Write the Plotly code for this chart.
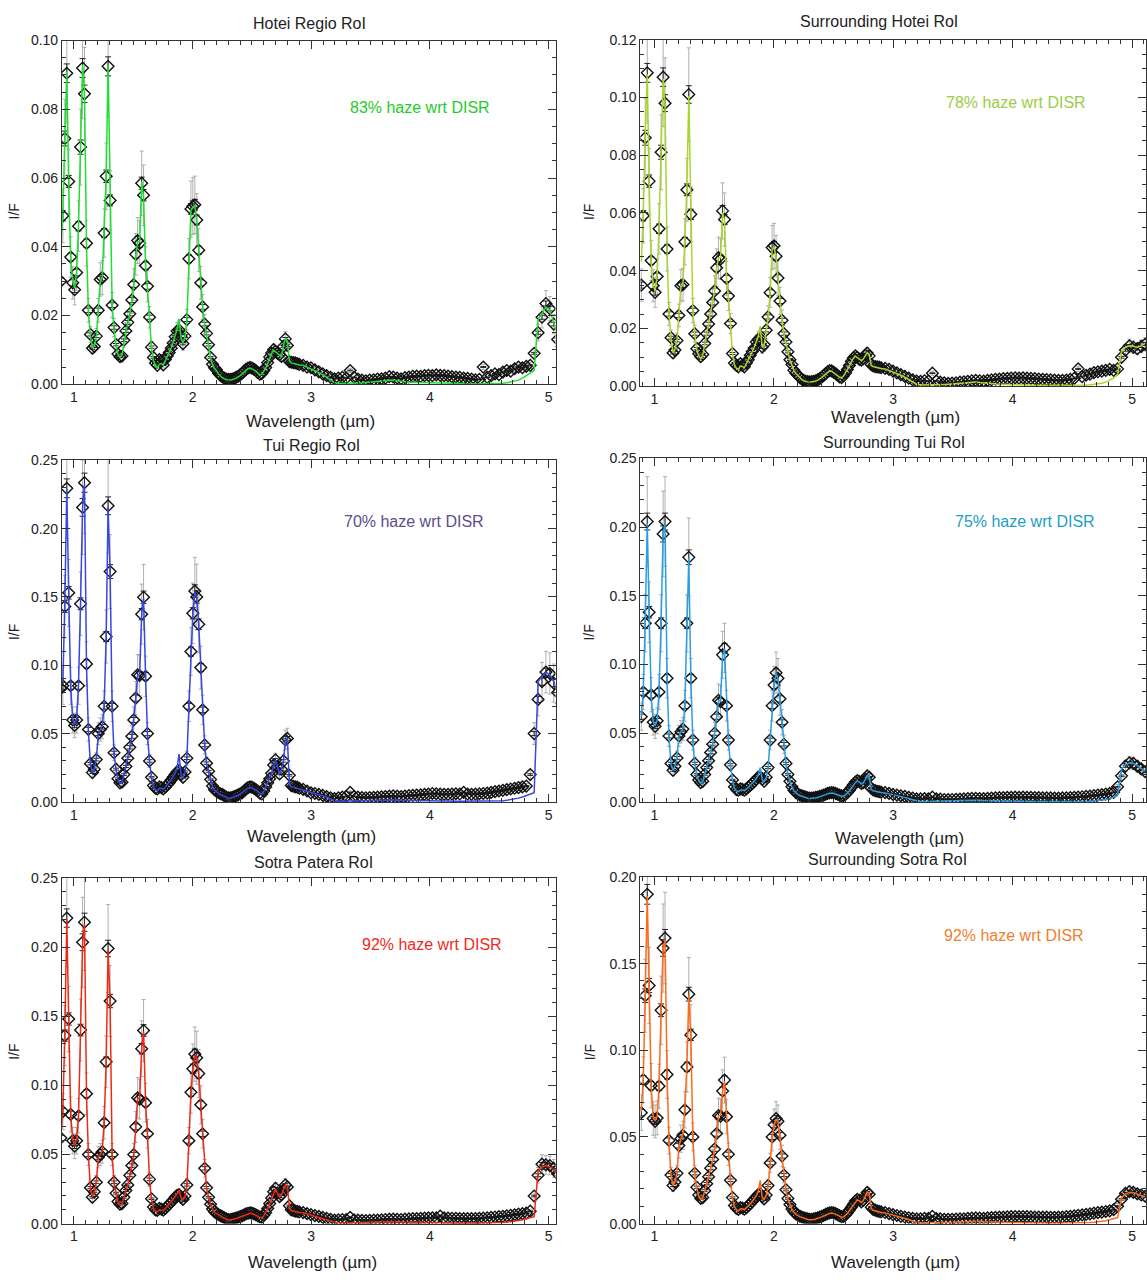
import plotly.graph_objects as go

W, H = 1147, 1280
FONT = "Liberation Sans, Arial, Helvetica, sans-serif"

# ---------------- wavelength grids (micron) ----------------
wl_a = [0.890, 0.907, 0.923, 0.940, 0.956, 0.973, 0.990, 1.006, 1.023, 1.039,
        1.056, 1.073, 1.089, 1.106, 1.122, 1.139, 1.156, 1.172, 1.189, 1.205,
        1.222, 1.239, 1.255, 1.272, 1.288, 1.305, 1.322, 1.338, 1.355, 1.371,
        1.388, 1.405, 1.421, 1.438, 1.454, 1.471, 1.488, 1.504, 1.521, 1.537,
        1.554, 1.571, 1.587, 1.604, 1.620, 1.637, 1.654, 1.670, 1.687, 1.703,
        1.720, 1.737, 1.753, 1.770, 1.786, 1.803, 1.820, 1.836, 1.853, 1.869,
        1.886, 1.903, 1.919, 1.936, 1.952, 1.969, 1.986, 2.002, 2.019, 2.035,
        2.052, 2.069, 2.085, 2.102, 2.118, 2.135, 2.152, 2.168, 2.185, 2.201,
        2.218, 2.235, 2.251, 2.268, 2.284, 2.301, 2.318, 2.334, 2.351, 2.367,
        2.384, 2.401, 2.417, 2.434, 2.450, 2.467, 2.484, 2.500, 2.517, 2.533,
        2.550, 2.567, 2.583, 2.600, 2.616, 2.633, 2.650, 2.666, 2.683, 2.699,
        2.716, 2.733, 2.749, 2.766, 2.782, 2.799, 2.816, 2.832, 2.849, 2.865,
        2.882, 2.899]
wl_b = [2.932, 2.965, 2.998, 3.031, 3.064, 3.097, 3.130, 3.163, 3.196, 3.229,
        3.262, 3.295, 3.328, 3.361, 3.394, 3.427, 3.460, 3.493, 3.526, 3.559,
        3.592, 3.625, 3.658, 3.691, 3.724, 3.757, 3.790, 3.823, 3.856, 3.889,
        3.922, 3.955, 3.988, 4.021, 4.054, 4.087, 4.120, 4.153, 4.186, 4.219,
        4.252, 4.285, 4.318, 4.351, 4.384, 4.417, 4.450, 4.483, 4.516, 4.549,
        4.582, 4.615, 4.648, 4.681, 4.714, 4.747, 4.780, 4.813, 4.846, 4.879,
        4.912, 4.945, 4.978, 5.011, 5.044, 5.077, 5.110]

# ---------------- Hotei Regio RoI ----------------
hotei_data_a = [0.0300, 0.0490, 0.0715, 0.0905, 0.0590, 0.0370, 0.0295, 0.0275, 0.0325, 0.0460,
                0.0690, 0.0920, 0.0845, 0.0410, 0.0215, 0.0145, 0.0105, 0.0110, 0.0140, 0.0215,
                0.0305, 0.0310, 0.0440, 0.0605, 0.0925, 0.0535, 0.0230, 0.0165, 0.0115, 0.0088,
                0.0080, 0.0082, 0.0128, 0.0155, 0.0180, 0.0205, 0.0245, 0.0290, 0.0378, 0.0418,
                0.0410, 0.0585, 0.0550, 0.0345, 0.0285, 0.0195, 0.0108, 0.0078, 0.0062, 0.0055,
                0.0072, 0.0068, 0.0056, 0.0072, 0.0082, 0.0092, 0.0105, 0.0120, 0.0138, 0.0155,
                0.0158, 0.0140, 0.0118, 0.0140, 0.0188, 0.0365, 0.0510, 0.0518, 0.0522, 0.0478,
                0.0390, 0.0295, 0.0225, 0.0175, 0.0148, 0.0115, 0.0078, 0.0058, 0.0048, 0.0042,
                0.0032, 0.0026, 0.0021, 0.0018, 0.0015, 0.0014, 0.0014, 0.0015, 0.0017, 0.0020,
                0.0023, 0.0027, 0.0032, 0.0038, 0.0043, 0.0047, 0.0049, 0.0047, 0.0044, 0.0040,
                0.0034, 0.0029, 0.0031, 0.0039, 0.0049, 0.0063, 0.0079, 0.0091, 0.0101, 0.0096,
                0.0090, 0.0086, 0.0081, 0.0110, 0.0132, 0.0113, 0.0066, 0.0064, 0.0063, 0.0062,
                0.0060, 0.0058]
hotei_data_b = [0.0055, 0.0050, 0.0048, 0.0042, 0.0036, 0.0030, 0.0025, 0.0020, 0.0016, 0.0018,
                0.0020, 0.0018, 0.0040, 0.0020, 0.0015, 0.0012, 0.0010, 0.0012, 0.0013, 0.0015,
                0.0016, 0.0018, 0.0022, 0.0021, 0.0018, 0.0016, 0.0019, 0.0021, 0.0023, 0.0024,
                0.0023, 0.0025, 0.0026, 0.0025, 0.0027, 0.0026, 0.0025, 0.0024, 0.0022, 0.0021,
                0.0020, 0.0018, 0.0017, 0.0015, 0.0013, 0.0014, 0.0050, 0.0020, 0.0025, 0.0030,
                0.0028, 0.0035, 0.0040, 0.0038, 0.0045, 0.0050, 0.0048, 0.0052, 0.0055, 0.0090,
                0.0150, 0.0195, 0.0235, 0.0220, 0.0175, 0.0130, 0.0110]
hotei_model_a = [0.0400, 0.0500, 0.0720, 0.0910, 0.0580, 0.0360, 0.0300, 0.0280, 0.0330, 0.0470,
                 0.0700, 0.0930, 0.0850, 0.0400, 0.0210, 0.0140, 0.0105, 0.0112, 0.0140, 0.0210,
                 0.0300, 0.0312, 0.0450, 0.0610, 0.0930, 0.0530, 0.0228, 0.0160, 0.0112, 0.0086,
                 0.0078, 0.0085, 0.0125, 0.0152, 0.0178, 0.0205, 0.0245, 0.0288, 0.0375, 0.0415,
                 0.0415, 0.0590, 0.0545, 0.0340, 0.0280, 0.0190, 0.0105, 0.0070, 0.0055, 0.0048,
                 0.0058, 0.0060, 0.0055, 0.0068, 0.0080, 0.0092, 0.0106, 0.0122, 0.0140, 0.0160,
                 0.0190, 0.0135, 0.0120, 0.0138, 0.0185, 0.0360, 0.0505, 0.0515, 0.0520, 0.0475,
                 0.0385, 0.0290, 0.0222, 0.0172, 0.0145, 0.0112, 0.0076, 0.0056, 0.0046, 0.0040,
                 0.0030, 0.0024, 0.0019, 0.0016, 0.0013, 0.0012, 0.0012, 0.0013, 0.0015, 0.0018,
                 0.0021, 0.0025, 0.0030, 0.0036, 0.0041, 0.0045, 0.0047, 0.0045, 0.0042, 0.0038,
                 0.0032, 0.0027, 0.0029, 0.0037, 0.0047, 0.0061, 0.0077, 0.0089, 0.0099, 0.0094,
                 0.0088, 0.0084, 0.0080, 0.0112, 0.0135, 0.0125, 0.0068, 0.0062, 0.0060, 0.0058,
                 0.0057, 0.0056]
hotei_model_b = [0.0055, 0.0050, 0.0045, 0.0040, 0.0034, 0.0028, 0.0020, 0.0012, 0.0005, 0.0002,
                 0.0002, 0.0002, 0.0002, 0.0002, 0.0003, 0.0004, 0.0005, 0.0006, 0.0007, 0.0008,
                 0.0009, 0.0011, 0.0013, 0.0012, 0.0010, 0.0008, 0.0007, 0.0006, 0.0006, 0.0005,
                 0.0005, 0.0005, 0.0004, 0.0004, 0.0004, 0.0003, 0.0003, 0.0003, 0.0002, 0.0002,
                 0.0002, 0.0002, 0.0001, 0.0001, 0.0001, 0.0001, 0.0001, 0.0001, 0.0001, 0.0002,
                 0.0002, 0.0003, 0.0004, 0.0006, 0.0008, 0.0012, 0.0018, 0.0025, 0.0032, 0.0040,
                 0.0190, 0.0205, 0.0225, 0.0215, 0.0180, 0.0140, 0.0120]

# ---------------- Surrounding Hotei RoI ----------------
shotei_data_a = [0.0350, 0.0590, 0.0860, 0.1085, 0.0710, 0.0435, 0.0348, 0.0325, 0.0380, 0.0545,
                 0.0810, 0.1070, 0.0980, 0.0475, 0.0250, 0.0168, 0.0115, 0.0125, 0.0158, 0.0245,
                 0.0348, 0.0352, 0.0500, 0.0680, 0.1010, 0.0595, 0.0262, 0.0182, 0.0130, 0.0112,
                 0.0102, 0.0110, 0.0148, 0.0182, 0.0215, 0.0250, 0.0290, 0.0330, 0.0410, 0.0445,
                 0.0440, 0.0607, 0.0577, 0.0373, 0.0312, 0.0217, 0.0113, 0.0080, 0.0072, 0.0067,
                 0.0078, 0.0072, 0.0067, 0.0080, 0.0092, 0.0107, 0.0120, 0.0132, 0.0153, 0.0162,
                 0.0165, 0.0136, 0.0144, 0.0194, 0.0240, 0.0324, 0.0480, 0.0486, 0.0450, 0.0375,
                 0.0295, 0.0228, 0.0182, 0.0153, 0.0119, 0.0092, 0.0075, 0.0055, 0.0045, 0.0038,
                 0.0030, 0.0024, 0.0020, 0.0017, 0.0016, 0.0015, 0.0016, 0.0017, 0.0019, 0.0022,
                 0.0026, 0.0031, 0.0037, 0.0044, 0.0050, 0.0054, 0.0053, 0.0049, 0.0044, 0.0038,
                 0.0032, 0.0030, 0.0036, 0.0046, 0.0058, 0.0072, 0.0086, 0.0098, 0.0105, 0.0100,
                 0.0093, 0.0090, 0.0095, 0.0108, 0.0115, 0.0105, 0.0075, 0.0070, 0.0068, 0.0067,
                 0.0066, 0.0064]
shotei_data_b = [0.0062, 0.0058, 0.0052, 0.0046, 0.0040, 0.0034, 0.0028, 0.0022, 0.0018, 0.0017,
                 0.0019, 0.0018, 0.0045, 0.0018, 0.0014, 0.0012, 0.0010, 0.0011, 0.0012, 0.0014,
                 0.0015, 0.0017, 0.0019, 0.0020, 0.0019, 0.0018, 0.0020, 0.0022, 0.0024, 0.0025,
                 0.0026, 0.0027, 0.0028, 0.0029, 0.0028, 0.0029, 0.0028, 0.0027, 0.0026, 0.0025,
                 0.0024, 0.0023, 0.0022, 0.0021, 0.0020, 0.0020, 0.0021, 0.0024, 0.0027, 0.0060,
                 0.0033, 0.0038, 0.0042, 0.0047, 0.0050, 0.0052, 0.0055, 0.0058, 0.0055, 0.0060,
                 0.0100, 0.0125, 0.0140, 0.0135, 0.0130, 0.0138, 0.0145]
shotei_model_a = [0.0430, 0.0600, 0.0870, 0.1080, 0.0700, 0.0430, 0.0350, 0.0330, 0.0385, 0.0550,
                  0.0820, 0.1065, 0.0975, 0.0470, 0.0245, 0.0165, 0.0115, 0.0128, 0.0160, 0.0245,
                  0.0345, 0.0355, 0.0510, 0.0685, 0.1005, 0.0590, 0.0258, 0.0178, 0.0126, 0.0105,
                  0.0095, 0.0108, 0.0145, 0.0180, 0.0213, 0.0248, 0.0288, 0.0330, 0.0408, 0.0445,
                  0.0445, 0.0600, 0.0575, 0.0370, 0.0308, 0.0212, 0.0110, 0.0075, 0.0062, 0.0058,
                  0.0070, 0.0068, 0.0064, 0.0078, 0.0090, 0.0105, 0.0120, 0.0135, 0.0155, 0.0172,
                  0.0208, 0.0135, 0.0142, 0.0190, 0.0238, 0.0320, 0.0475, 0.0482, 0.0448, 0.0372,
                  0.0292, 0.0225, 0.0180, 0.0150, 0.0117, 0.0090, 0.0073, 0.0054, 0.0044, 0.0037,
                  0.0029, 0.0023, 0.0019, 0.0016, 0.0015, 0.0014, 0.0015, 0.0016, 0.0018, 0.0021,
                  0.0025, 0.0030, 0.0036, 0.0043, 0.0049, 0.0053, 0.0052, 0.0048, 0.0043, 0.0037,
                  0.0031, 0.0029, 0.0035, 0.0045, 0.0057, 0.0071, 0.0085, 0.0097, 0.0104, 0.0099,
                  0.0092, 0.0089, 0.0094, 0.0107, 0.0116, 0.0110, 0.0072, 0.0068, 0.0066, 0.0065,
                  0.0063, 0.0061]
shotei_model_b = [0.0060, 0.0055, 0.0050, 0.0044, 0.0038, 0.0031, 0.0023, 0.0014, 0.0007, 0.0004,
                  0.0004, 0.0004, 0.0004, 0.0004, 0.0005, 0.0006, 0.0007, 0.0008, 0.0009, 0.0010,
                  0.0011, 0.0013, 0.0015, 0.0015, 0.0013, 0.0011, 0.0010, 0.0009, 0.0008, 0.0007,
                  0.0007, 0.0006, 0.0006, 0.0005, 0.0005, 0.0004, 0.0004, 0.0004, 0.0003, 0.0003,
                  0.0003, 0.0003, 0.0002, 0.0002, 0.0002, 0.0002, 0.0002, 0.0002, 0.0002, 0.0003,
                  0.0003, 0.0004, 0.0005, 0.0006, 0.0008, 0.0010, 0.0014, 0.0020, 0.0028, 0.0040,
                  0.0120, 0.0135, 0.0140, 0.0138, 0.0135, 0.0140, 0.0148]

# ---------------- Tui Regio RoI ----------------
tui_data_a = [0.0830, 0.0850, 0.1430, 0.2295, 0.1530, 0.0850, 0.0600, 0.0560, 0.0600, 0.0850,
              0.1450, 0.2155, 0.2336, 0.1010, 0.0530, 0.0280, 0.0215, 0.0240, 0.0310, 0.0500,
              0.0530, 0.0550, 0.0700, 0.1210, 0.2167, 0.1686, 0.0700, 0.0360, 0.0240, 0.0170,
              0.0140, 0.0145, 0.0200, 0.0260, 0.0320, 0.0400, 0.0480, 0.0600, 0.0760, 0.0930,
              0.0925, 0.1374, 0.1498, 0.0920, 0.0500, 0.0300, 0.0180, 0.0120, 0.0100, 0.0095,
              0.0110, 0.0105, 0.0095, 0.0110, 0.0125, 0.0140, 0.0160, 0.0180, 0.0200, 0.0220,
              0.0230, 0.0200, 0.0180, 0.0220, 0.0320, 0.0700, 0.1100, 0.1380, 0.1543, 0.1500,
              0.1300, 0.0983, 0.0674, 0.0417, 0.0284, 0.0224, 0.0164, 0.0116, 0.0090, 0.0078,
              0.0068, 0.0060, 0.0055, 0.0045, 0.0036, 0.0030, 0.0030, 0.0034, 0.0040, 0.0045,
              0.0052, 0.0060, 0.0067, 0.0080, 0.0095, 0.0105, 0.0110, 0.0108, 0.0100, 0.0090,
              0.0080, 0.0065, 0.0058, 0.0080, 0.0110, 0.0140, 0.0170, 0.0210, 0.0270, 0.0308,
              0.0260, 0.0205, 0.0240, 0.0300, 0.0453, 0.0465, 0.0195, 0.0120, 0.0115, 0.0110,
              0.0108, 0.0100]
tui_data_b = [0.0092, 0.0080, 0.0067, 0.0062, 0.0055, 0.0048, 0.0040, 0.0030, 0.0024, 0.0030,
              0.0035, 0.0040, 0.0070, 0.0040, 0.0035, 0.0032, 0.0030, 0.0032, 0.0034, 0.0036,
              0.0038, 0.0040, 0.0042, 0.0044, 0.0042, 0.0040, 0.0043, 0.0046, 0.0048, 0.0050,
              0.0052, 0.0055, 0.0058, 0.0062, 0.0060, 0.0058, 0.0056, 0.0055, 0.0058, 0.0060,
              0.0058, 0.0070, 0.0058, 0.0056, 0.0058, 0.0060, 0.0062, 0.0065, 0.0070, 0.0075,
              0.0080, 0.0085, 0.0090, 0.0095, 0.0100, 0.0105, 0.0110, 0.0116, 0.0200, 0.0500,
              0.0750, 0.0880, 0.0950, 0.0940, 0.0870, 0.0800, 0.0720]
tui_model_a = [0.0900, 0.0880, 0.1450, 0.2290, 0.1520, 0.0840, 0.0600, 0.0565, 0.0610, 0.0870,
               0.1470, 0.2160, 0.2330, 0.1000, 0.0520, 0.0275, 0.0215, 0.0245, 0.0315, 0.0495,
               0.0530, 0.0555, 0.0710, 0.1220, 0.2160, 0.1680, 0.0690, 0.0355, 0.0235, 0.0165,
               0.0135, 0.0142, 0.0195, 0.0258, 0.0318, 0.0398, 0.0478, 0.0598, 0.0758, 0.0928,
               0.0930, 0.1380, 0.1490, 0.0910, 0.0495, 0.0295, 0.0175, 0.0110, 0.0088, 0.0082,
               0.0098, 0.0100, 0.0092, 0.0108, 0.0124, 0.0140, 0.0162, 0.0185, 0.0210, 0.0250,
               0.0350, 0.0195, 0.0178, 0.0215, 0.0315, 0.0690, 0.1090, 0.1375, 0.1535, 0.1495,
               0.1295, 0.0980, 0.0670, 0.0415, 0.0280, 0.0220, 0.0160, 0.0112, 0.0086, 0.0074,
               0.0064, 0.0056, 0.0050, 0.0041, 0.0033, 0.0027, 0.0027, 0.0031, 0.0037, 0.0042,
               0.0049, 0.0057, 0.0065, 0.0078, 0.0092, 0.0102, 0.0107, 0.0105, 0.0097, 0.0087,
               0.0077, 0.0062, 0.0056, 0.0078, 0.0108, 0.0138, 0.0168, 0.0208, 0.0268, 0.0305,
               0.0258, 0.0202, 0.0238, 0.0298, 0.0455, 0.0462, 0.0130, 0.0110, 0.0108, 0.0104,
               0.0100, 0.0095]
tui_model_b = [0.0090, 0.0080, 0.0070, 0.0062, 0.0054, 0.0046, 0.0036, 0.0022, 0.0010, 0.0006,
               0.0006, 0.0006, 0.0006, 0.0006, 0.0007, 0.0008, 0.0009, 0.0010, 0.0011, 0.0012,
               0.0013, 0.0015, 0.0017, 0.0017, 0.0015, 0.0013, 0.0012, 0.0011, 0.0010, 0.0009,
               0.0009, 0.0008, 0.0008, 0.0007, 0.0007, 0.0006, 0.0006, 0.0006, 0.0005, 0.0005,
               0.0005, 0.0005, 0.0004, 0.0004, 0.0004, 0.0004, 0.0004, 0.0004, 0.0005, 0.0006,
               0.0007, 0.0009, 0.0012, 0.0016, 0.0021, 0.0028, 0.0036, 0.0045, 0.0055, 0.0068,
               0.0880, 0.0920, 0.0950, 0.0930, 0.0880, 0.0820, 0.0750]

# ---------------- Surrounding Tui RoI ----------------
stui_data_a = [0.0620, 0.0800, 0.1300, 0.2040, 0.1380, 0.0780, 0.0580, 0.0550, 0.0590, 0.0800,
               0.1300, 0.1950, 0.2040, 0.0900, 0.0480, 0.0280, 0.0230, 0.0260, 0.0320, 0.0480,
               0.0510, 0.0530, 0.0700, 0.1300, 0.1780, 0.0900, 0.0450, 0.0280, 0.0200, 0.0160,
               0.0140, 0.0150, 0.0200, 0.0250, 0.0300, 0.0360, 0.0420, 0.0500, 0.0620, 0.0740,
               0.0730, 0.1070, 0.1120, 0.0700, 0.0450, 0.0270, 0.0160, 0.0110, 0.0090, 0.0085,
               0.0095, 0.0092, 0.0085, 0.0095, 0.0108, 0.0120, 0.0135, 0.0150, 0.0165, 0.0180,
               0.0185, 0.0165, 0.0150, 0.0180, 0.0250, 0.0450, 0.0700, 0.0850, 0.0940, 0.0900,
               0.0750, 0.0580, 0.0420, 0.0280, 0.0200, 0.0150, 0.0110, 0.0085, 0.0068, 0.0058,
               0.0050, 0.0044, 0.0040, 0.0035, 0.0030, 0.0028, 0.0028, 0.0030, 0.0033, 0.0036,
               0.0040, 0.0045, 0.0050, 0.0056, 0.0062, 0.0066, 0.0068, 0.0066, 0.0062, 0.0056,
               0.0050, 0.0044, 0.0045, 0.0055, 0.0068, 0.0085, 0.0105, 0.0125, 0.0145, 0.0155,
               0.0148, 0.0135, 0.0140, 0.0165, 0.0190, 0.0180, 0.0100, 0.0088, 0.0082, 0.0078,
               0.0075, 0.0072]
stui_data_b = [0.0068, 0.0062, 0.0055, 0.0050, 0.0045, 0.0040, 0.0034, 0.0028, 0.0022, 0.0022,
               0.0024, 0.0023, 0.0035, 0.0022, 0.0020, 0.0018, 0.0017, 0.0018, 0.0019, 0.0020,
               0.0022, 0.0024, 0.0026, 0.0027, 0.0025, 0.0024, 0.0026, 0.0028, 0.0030, 0.0031,
               0.0032, 0.0033, 0.0034, 0.0035, 0.0034, 0.0035, 0.0034, 0.0033, 0.0032, 0.0031,
               0.0030, 0.0030, 0.0029, 0.0028, 0.0028, 0.0029, 0.0030, 0.0032, 0.0034, 0.0036,
               0.0038, 0.0040, 0.0043, 0.0046, 0.0050, 0.0053, 0.0057, 0.0062, 0.0070, 0.0110,
               0.0190, 0.0260, 0.0285, 0.0280, 0.0260, 0.0240, 0.0220]
stui_model_a = [0.0620, 0.0810, 0.1310, 0.2030, 0.1370, 0.0775, 0.0585, 0.0555, 0.0595, 0.0810,
                0.1310, 0.1950, 0.2030, 0.0890, 0.0475, 0.0275, 0.0230, 0.0262, 0.0322, 0.0478,
                0.0510, 0.0535, 0.0710, 0.1300, 0.1775, 0.0895, 0.0445, 0.0275, 0.0195, 0.0155,
                0.0135, 0.0148, 0.0198, 0.0248, 0.0298, 0.0358, 0.0418, 0.0498, 0.0618, 0.0738,
                0.0735, 0.1065, 0.1115, 0.0695, 0.0445, 0.0265, 0.0155, 0.0100, 0.0080, 0.0075,
                0.0086, 0.0088, 0.0082, 0.0093, 0.0106, 0.0120, 0.0136, 0.0153, 0.0170, 0.0195,
                0.0250, 0.0160, 0.0148, 0.0176, 0.0245, 0.0445, 0.0695, 0.0845, 0.0935, 0.0895,
                0.0745, 0.0575, 0.0415, 0.0276, 0.0196, 0.0147, 0.0107, 0.0082, 0.0065, 0.0055,
                0.0047, 0.0041, 0.0037, 0.0032, 0.0027, 0.0025, 0.0025, 0.0027, 0.0030, 0.0033,
                0.0037, 0.0042, 0.0047, 0.0053, 0.0059, 0.0063, 0.0065, 0.0063, 0.0059, 0.0053,
                0.0047, 0.0041, 0.0042, 0.0052, 0.0065, 0.0082, 0.0102, 0.0122, 0.0142, 0.0152,
                0.0145, 0.0132, 0.0138, 0.0163, 0.0192, 0.0185, 0.0090, 0.0082, 0.0078, 0.0074,
                0.0071, 0.0068]
stui_model_b = [0.0066, 0.0060, 0.0054, 0.0048, 0.0042, 0.0035, 0.0026, 0.0016, 0.0008, 0.0004,
                0.0004, 0.0004, 0.0004, 0.0004, 0.0005, 0.0006, 0.0007, 0.0008, 0.0009, 0.0010,
                0.0011, 0.0013, 0.0015, 0.0015, 0.0013, 0.0011, 0.0010, 0.0009, 0.0008, 0.0007,
                0.0007, 0.0006, 0.0006, 0.0005, 0.0005, 0.0004, 0.0004, 0.0004, 0.0003, 0.0003,
                0.0003, 0.0003, 0.0002, 0.0002, 0.0002, 0.0002, 0.0002, 0.0002, 0.0003, 0.0003,
                0.0004, 0.0005, 0.0006, 0.0008, 0.0010, 0.0013, 0.0018, 0.0024, 0.0032, 0.0045,
                0.0240, 0.0270, 0.0285, 0.0280, 0.0265, 0.0245, 0.0225]

# ---------------- Sotra Patera RoI ----------------
sotra_data_a = [0.0620, 0.0810, 0.1360, 0.2210, 0.1480, 0.0790, 0.0600, 0.0560, 0.0600, 0.0780,
                0.1400, 0.2035, 0.2180, 0.0940, 0.0500, 0.0260, 0.0190, 0.0230, 0.0300, 0.0480,
                0.0500, 0.0520, 0.0730, 0.1170, 0.1990, 0.1610, 0.0500, 0.0300, 0.0220, 0.0160,
                0.0140, 0.0145, 0.0190, 0.0240, 0.0280, 0.0350, 0.0420, 0.0500, 0.0700, 0.0910,
                0.0900, 0.1265, 0.1397, 0.0875, 0.0650, 0.0320, 0.0180, 0.0120, 0.0100, 0.0095,
                0.0110, 0.0105, 0.0098, 0.0110, 0.0125, 0.0140, 0.0155, 0.0170, 0.0190, 0.0205,
                0.0210, 0.0190, 0.0175, 0.0200, 0.0280, 0.0600, 0.0950, 0.1120, 0.1226, 0.1200,
                0.1085, 0.0860, 0.0650, 0.0400, 0.0260, 0.0190, 0.0140, 0.0105, 0.0085, 0.0075,
                0.0065, 0.0058, 0.0050, 0.0042, 0.0035, 0.0030, 0.0030, 0.0032, 0.0036, 0.0040,
                0.0045, 0.0050, 0.0056, 0.0063, 0.0070, 0.0075, 0.0078, 0.0076, 0.0071, 0.0064,
                0.0056, 0.0048, 0.0045, 0.0060, 0.0080, 0.0110, 0.0145, 0.0185, 0.0230, 0.0255,
                0.0220, 0.0195, 0.0210, 0.0245, 0.0280, 0.0265, 0.0130, 0.0100, 0.0095, 0.0090,
                0.0088, 0.0085]
sotra_data_b = [0.0080, 0.0072, 0.0065, 0.0058, 0.0052, 0.0045, 0.0038, 0.0031, 0.0026, 0.0028,
                0.0030, 0.0029, 0.0045, 0.0028, 0.0025, 0.0023, 0.0022, 0.0023, 0.0025, 0.0026,
                0.0028, 0.0030, 0.0032, 0.0033, 0.0031, 0.0030, 0.0032, 0.0034, 0.0036, 0.0037,
                0.0038, 0.0040, 0.0041, 0.0042, 0.0041, 0.0055, 0.0041, 0.0040, 0.0039, 0.0038,
                0.0037, 0.0036, 0.0036, 0.0036, 0.0037, 0.0038, 0.0040, 0.0042, 0.0045, 0.0048,
                0.0050, 0.0053, 0.0056, 0.0060, 0.0064, 0.0068, 0.0072, 0.0076, 0.0090, 0.0200,
                0.0350, 0.0430, 0.0425, 0.0420, 0.0400, 0.0360, 0.0330]
sotra_model_a = [0.0640, 0.0830, 0.1370, 0.2200, 0.1470, 0.0785, 0.0605, 0.0565, 0.0610, 0.0790,
                 0.1410, 0.2030, 0.2170, 0.0930, 0.0495, 0.0255, 0.0190, 0.0232, 0.0302, 0.0478,
                 0.0500, 0.0525, 0.0740, 0.1175, 0.1985, 0.1600, 0.0495, 0.0295, 0.0215, 0.0155,
                 0.0135, 0.0142, 0.0188, 0.0238, 0.0278, 0.0348, 0.0418, 0.0498, 0.0698, 0.0908,
                 0.0905, 0.1270, 0.1390, 0.0870, 0.0645, 0.0315, 0.0175, 0.0110, 0.0090, 0.0085,
                 0.0100, 0.0100, 0.0095, 0.0108, 0.0124, 0.0140, 0.0157, 0.0174, 0.0196, 0.0215,
                 0.0240, 0.0185, 0.0172, 0.0196, 0.0275, 0.0595, 0.0945, 0.1115, 0.1220, 0.1195,
                 0.1080, 0.0855, 0.0645, 0.0396, 0.0256, 0.0186, 0.0136, 0.0102, 0.0082, 0.0072,
                 0.0062, 0.0055, 0.0047, 0.0039, 0.0032, 0.0027, 0.0027, 0.0029, 0.0033, 0.0037,
                 0.0042, 0.0047, 0.0053, 0.0060, 0.0067, 0.0072, 0.0075, 0.0073, 0.0068, 0.0061,
                 0.0053, 0.0045, 0.0042, 0.0057, 0.0077, 0.0107, 0.0142, 0.0182, 0.0228, 0.0252,
                 0.0218, 0.0192, 0.0208, 0.0243, 0.0282, 0.0270, 0.0115, 0.0095, 0.0090, 0.0086,
                 0.0083, 0.0080]
sotra_model_b = [0.0078, 0.0070, 0.0062, 0.0055, 0.0048, 0.0040, 0.0031, 0.0019, 0.0009, 0.0005,
                 0.0005, 0.0005, 0.0005, 0.0005, 0.0006, 0.0007, 0.0008, 0.0009, 0.0010, 0.0011,
                 0.0012, 0.0014, 0.0016, 0.0016, 0.0014, 0.0012, 0.0011, 0.0010, 0.0009, 0.0008,
                 0.0008, 0.0007, 0.0007, 0.0006, 0.0006, 0.0005, 0.0005, 0.0005, 0.0004, 0.0004,
                 0.0004, 0.0004, 0.0003, 0.0003, 0.0003, 0.0003, 0.0003, 0.0003, 0.0004, 0.0005,
                 0.0006, 0.0008, 0.0010, 0.0013, 0.0017, 0.0022, 0.0028, 0.0035, 0.0042, 0.0050,
                 0.0380, 0.0410, 0.0420, 0.0410, 0.0390, 0.0360, 0.0330]

# ---------------- Surrounding Sotra RoI ----------------
ssotra_data_a = [0.0640, 0.0830, 0.1315, 0.1900, 0.1374, 0.0796, 0.0606, 0.0590, 0.0610, 0.0793,
                 0.1231, 0.1590, 0.1648, 0.0860, 0.0480, 0.0280, 0.0220, 0.0240, 0.0290, 0.0450,
                 0.0490, 0.0510, 0.0657, 0.0904, 0.1324, 0.1089, 0.0500, 0.0290, 0.0210, 0.0165,
                 0.0145, 0.0150, 0.0190, 0.0230, 0.0270, 0.0320, 0.0370, 0.0430, 0.0520, 0.0624,
                 0.0620, 0.0765, 0.0828, 0.0617, 0.0400, 0.0250, 0.0150, 0.0105, 0.0088, 0.0082,
                 0.0092, 0.0090, 0.0083, 0.0092, 0.0104, 0.0115, 0.0128, 0.0142, 0.0155, 0.0168,
                 0.0172, 0.0155, 0.0142, 0.0165, 0.0220, 0.0350, 0.0500, 0.0570, 0.0606, 0.0590,
                 0.0510, 0.0390, 0.0280, 0.0195, 0.0145, 0.0110, 0.0085, 0.0068, 0.0056, 0.0049,
                 0.0043, 0.0038, 0.0034, 0.0030, 0.0027, 0.0025, 0.0025, 0.0027, 0.0030, 0.0033,
                 0.0037, 0.0042, 0.0047, 0.0053, 0.0058, 0.0062, 0.0064, 0.0062, 0.0058, 0.0052,
                 0.0046, 0.0040, 0.0041, 0.0050, 0.0062, 0.0078, 0.0095, 0.0112, 0.0130, 0.0140,
                 0.0135, 0.0125, 0.0135, 0.0160, 0.0180, 0.0170, 0.0095, 0.0082, 0.0078, 0.0074,
                 0.0071, 0.0068]
ssotra_data_b = [0.0064, 0.0058, 0.0052, 0.0047, 0.0042, 0.0038, 0.0034, 0.0030, 0.0027, 0.0028,
                 0.0030, 0.0030, 0.0042, 0.0029, 0.0027, 0.0025, 0.0024, 0.0025, 0.0026, 0.0027,
                 0.0028, 0.0030, 0.0032, 0.0033, 0.0032, 0.0031, 0.0033, 0.0035, 0.0036, 0.0037,
                 0.0038, 0.0039, 0.0040, 0.0041, 0.0040, 0.0041, 0.0040, 0.0039, 0.0038, 0.0038,
                 0.0037, 0.0037, 0.0036, 0.0036, 0.0037, 0.0038, 0.0040, 0.0042, 0.0045, 0.0048,
                 0.0050, 0.0053, 0.0056, 0.0060, 0.0063, 0.0066, 0.0070, 0.0074, 0.0080, 0.0100,
                 0.0140, 0.0175, 0.0185, 0.0180, 0.0172, 0.0165, 0.0158]
ssotra_model_a = [0.0650, 0.0840, 0.1320, 0.1890, 0.1365, 0.0790, 0.0608, 0.0595, 0.0618, 0.0800,
                  0.1235, 0.1585, 0.1640, 0.0855, 0.0475, 0.0275, 0.0220, 0.0242, 0.0292, 0.0448,
                  0.0490, 0.0515, 0.0665, 0.0910, 0.1320, 0.1080, 0.0495, 0.0285, 0.0205, 0.0160,
                  0.0140, 0.0148, 0.0188, 0.0228, 0.0268, 0.0318, 0.0368, 0.0428, 0.0518, 0.0622,
                  0.0625, 0.0768, 0.0822, 0.0612, 0.0395, 0.0245, 0.0145, 0.0098, 0.0080, 0.0074,
                  0.0084, 0.0086, 0.0080, 0.0090, 0.0102, 0.0115, 0.0129, 0.0145, 0.0160, 0.0185,
                  0.0250, 0.0150, 0.0140, 0.0162, 0.0216, 0.0345, 0.0495, 0.0565, 0.0602, 0.0586,
                  0.0505, 0.0386, 0.0276, 0.0192, 0.0142, 0.0107, 0.0082, 0.0065, 0.0053, 0.0046,
                  0.0040, 0.0035, 0.0031, 0.0027, 0.0024, 0.0022, 0.0022, 0.0024, 0.0027, 0.0030,
                  0.0034, 0.0039, 0.0044, 0.0050, 0.0055, 0.0059, 0.0061, 0.0059, 0.0055, 0.0049,
                  0.0043, 0.0037, 0.0038, 0.0047, 0.0059, 0.0075, 0.0092, 0.0109, 0.0127, 0.0137,
                  0.0132, 0.0122, 0.0133, 0.0158, 0.0182, 0.0175, 0.0085, 0.0077, 0.0073, 0.0070,
                  0.0067, 0.0064]
ssotra_model_b = [0.0062, 0.0056, 0.0050, 0.0044, 0.0038, 0.0032, 0.0024, 0.0015, 0.0007, 0.0004,
                  0.0004, 0.0004, 0.0004, 0.0004, 0.0005, 0.0006, 0.0007, 0.0008, 0.0009, 0.0010,
                  0.0011, 0.0013, 0.0015, 0.0015, 0.0013, 0.0011, 0.0010, 0.0009, 0.0008, 0.0007,
                  0.0007, 0.0006, 0.0006, 0.0005, 0.0005, 0.0004, 0.0004, 0.0004, 0.0003, 0.0003,
                  0.0003, 0.0003, 0.0002, 0.0002, 0.0002, 0.0002, 0.0002, 0.0002, 0.0003, 0.0003,
                  0.0004, 0.0005, 0.0006, 0.0008, 0.0010, 0.0013, 0.0017, 0.0022, 0.0028, 0.0035,
                  0.0150, 0.0170, 0.0180, 0.0178, 0.0170, 0.0162, 0.0155]

titles = ["Hotei Regio RoI", "Surrounding Hotei RoI", "Tui Regio RoI",
          "Surrounding Tui RoI", "Sotra Patera RoI", "Surrounding Sotra RoI"]
notes = ["83% haze wrt DISR", "78% haze wrt DISR", "70% haze wrt DISR",
         "75% haze wrt DISR", "92% haze wrt DISR", "92% haze wrt DISR"]
y_ranges = [[0, 0.10], [0, 0.12], [0, 0.25], [0, 0.25], [0, 0.25], [0, 0.20]]
y_major = [0.02, 0.02, 0.05, 0.05, 0.05, 0.05]
y_minor = [0.005, 0.005, 0.01, 0.01, 0.01, 0.01]

data_sets = [
    (hotei_data_a + hotei_data_b, hotei_model_a + hotei_model_b),
    (shotei_data_a + shotei_data_b, shotei_model_a + shotei_model_b),
    (tui_data_a + tui_data_b, tui_model_a + tui_model_b),
    (stui_data_a + stui_data_b, stui_model_a + stui_model_b),
    (sotra_data_a + sotra_data_b, sotra_model_a + sotra_model_b),
    (ssotra_data_a + ssotra_data_b, ssotra_model_a + ssotra_model_b),
]
wl = wl_a + wl_b

# ---------------- styling / layout (pixels) ----------------
line_colors = ["#22dd33", "#a8d62a", "#3548e0", "#2a9ee2", "#ee2a14", "#ff6a1a"]
note_colors = ["#1fcc2a", "#9ccc45", "#5d4d8c", "#1aa0c6", "#ee2a22", "#f08030"]
boxes = [(62, 33, 556, 381), (641, 32, 1147, 383),
         (62, 458, 556, 804), (641, 456, 1147, 804),
         (62, 881, 556, 1231), (641, 880, 1147, 1231)]
x_ranges = [[0.899, 5.059], [0.883, 5.117]] * 3
title_pos = [(310, 16), (880, 14), (312, 443), (895, 440), (314, 865), (888, 862)]
xtitle_pos = [(311, 419), (896, 415), (312, 839), (900, 841), (313, 1270), (896, 1270)]
ytitle_pos = [(14, 206), (590, 206), (14, 632), (590, 632), (14, 1057), (590, 1057)]
note_pos = [(420, 101), (1017, 96), (414, 520), (1026, 520), (432, 948), (1015, 939)]

fig = go.Figure()
annotations = []
AX = "#333333"

for i in range(6):
    n = i + 1
    xs_name = "x" if n == 1 else f"x{n}"
    ys_name = "y" if n == 1 else f"y{n}"
    ys, ms = data_sets[i]
    k = min(len(wl), len(ys), len(ms))
    xv, yv, mv = wl[:k], ys[:k], ms[:k]

    fig.add_trace(go.Scatter(x=xv, y=yv, mode="markers", xaxis=xs_name, yaxis=ys_name,
                             marker=dict(size=2, color="rgba(0,0,0,0)"),
                             error_y=dict(type="percent", value=16, color="rgba(150,150,150,0.75)",
                                          thickness=1, width=2),
                             hoverinfo="skip", showlegend=False))
    fig.add_trace(go.Scatter(x=xv, y=yv, mode="markers", xaxis=xs_name, yaxis=ys_name,
                             marker=dict(symbol="diamond-open", size=9, color="#111111",
                                         line=dict(width=1.4, color="#111111")),
                             error_y=dict(type="percent", value=3, color="#222222",
                                          thickness=1, width=3),
                             showlegend=False))
    fig.add_trace(go.Scatter(x=xv, y=mv, mode="lines", xaxis=xs_name, yaxis=ys_name,
                             line=dict(color=line_colors[i], width=1.5),
                             showlegend=False))

    l, t, r, b = boxes[i]
    xkey = "xaxis" if n == 1 else f"xaxis{n}"
    ykey = "yaxis" if n == 1 else f"yaxis{n}"
    fig.layout[xkey] = dict(domain=[l / W, min(r / W, 1.0)], anchor=ys_name,
                            range=x_ranges[i], tickmode="linear", tick0=0, dtick=1,
                            ticks="inside", ticklen=8, tickwidth=1, tickcolor=AX,
                            minor=dict(ticks="inside", ticklen=4, dtick=0.1, tick0=0,
                                       tickcolor=AX, showgrid=False),
                            showline=True, linecolor=AX, linewidth=1, mirror="ticks",
                            showgrid=False, zeroline=False,
                            tickfont=dict(family=FONT, size=14, color="#222"))
    fig.layout[ykey] = dict(domain=[1 - b / H, 1 - t / H], anchor=xs_name,
                            range=y_ranges[i], tickmode="linear", tick0=0, dtick=y_major[i],
                            tickformat=".2f",
                            ticks="inside", ticklen=8, tickwidth=1, tickcolor=AX,
                            minor=dict(ticks="inside", ticklen=4, dtick=y_minor[i], tick0=0,
                                       tickcolor=AX, showgrid=False),
                            showline=True, linecolor=AX, linewidth=1, mirror="ticks",
                            showgrid=False, zeroline=False,
                            tickfont=dict(family=FONT, size=14, color="#222"))

    px, py = title_pos[i]
    annotations.append(dict(x=px / W, y=1 - py / H, xref="paper", yref="paper",
                            text=titles[i], showarrow=False, xanchor="center", yanchor="middle",
                            font=dict(family=FONT, size=16, color="#222")))
    px, py = xtitle_pos[i]
    annotations.append(dict(x=px / W, y=1 - py / H, xref="paper", yref="paper",
                            text="Wavelength (µm)", showarrow=False, xanchor="center",
                            yanchor="middle", font=dict(family=FONT, size=17, color="#222")))
    px, py = ytitle_pos[i]
    annotations.append(dict(x=px / W, y=1 - py / H, xref="paper", yref="paper",
                            text="I/F", showarrow=False, textangle=-90, xanchor="center",
                            yanchor="middle", font=dict(family=FONT, size=14, color="#222")))
    px, py = note_pos[i]
    annotations.append(dict(x=px / W, y=1 - py / H, xref="paper", yref="paper",
                            text=notes[i], showarrow=False, xanchor="center", yanchor="middle",
                            font=dict(family=FONT, size=16, color=note_colors[i])))

fig.update_layout(width=W, height=H, autosize=False,
                  margin=dict(l=0, r=0, t=0, b=0),
                  paper_bgcolor="white", plot_bgcolor="white",
                  showlegend=False, annotations=annotations,
                  font=dict(family=FONT, color="#222"))

fig.write_html("out.html")
